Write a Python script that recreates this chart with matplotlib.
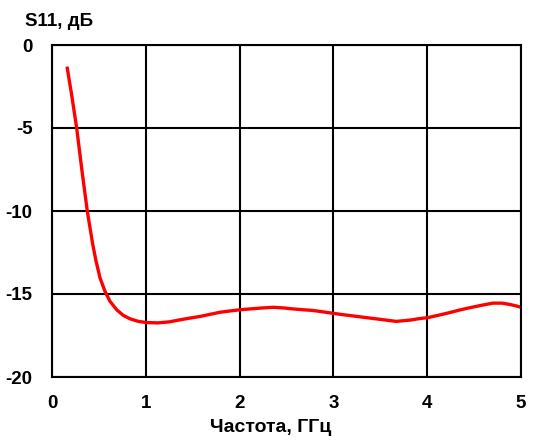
import numpy as np
import matplotlib.pyplot as plt

plt.rcParams['font.family'] = ['Liberation Sans', 'DejaVu Sans']
plt.rcParams['font.weight'] = 'bold'
plt.rcParams['axes.unicode_minus'] = False

# S11 vs frequency
freq = [0.163, 0.21, 0.263, 0.317, 0.376, 0.405, 0.434, 0.469, 0.512, 0.565,
        0.618, 0.69, 0.76, 0.83, 0.92, 1.01, 1.13, 1.25, 1.36, 1.47, 1.58,
        1.69, 1.79, 1.9, 2.0, 2.11, 2.22, 2.36, 2.47, 2.57, 2.68, 2.78, 2.88,
        2.98, 3.08, 3.18, 3.29, 3.39, 3.53, 3.67, 3.82, 3.92, 4.01, 4.12,
        4.24, 4.35, 4.46, 4.58, 4.7, 4.8, 4.88, 4.95, 5.0]
s11 = [-1.40, -3.02, -5.0, -7.46, -10.0, -11.0, -12.0, -13.0, -14.03, -14.84,
       -15.44, -15.95, -16.29, -16.49, -16.65, -16.72, -16.74, -16.68, -16.56,
       -16.45, -16.35, -16.22, -16.1, -16.02, -15.95, -15.9, -15.85, -15.8,
       -15.84, -15.9, -15.95, -15.99, -16.07, -16.15, -16.23, -16.3, -16.38,
       -16.45, -16.55, -16.65, -16.57, -16.48, -16.42, -16.28, -16.12, -15.96,
       -15.82, -15.68, -15.55, -15.55, -15.63, -15.72, -15.8]

x_ticks = [0, 1, 2, 3, 4, 5]
y_ticks = [0, -5, -10, -15, -20]

fig = plt.figure(figsize=(5.4, 4.43), dpi=100)
ax = fig.add_axes([52 / 540, 1 - 377 / 443, 469 / 540, 332 / 443])

ax.plot(freq, s11, color='#ff0000', linewidth=2.4, solid_joinstyle='round')

ax.set_xlim(0, 5)
ax.set_ylim(-20, 0)
ax.set_xticks(x_ticks)
ax.set_yticks(y_ticks)
ax.grid(True, color='black', linewidth=1.5)
for sp in ax.spines.values():
    sp.set_color('black')
    sp.set_linewidth(1.5)
ax.tick_params(length=0, labelsize=13.5, pad=14)
ax.tick_params(axis='x', pad=13)

# axis titles sit relative to the whole picture, not the plot box
fig.text(271 / 540, 1 - 428 / 443, 'Частота, ГГц', fontsize=14,
         fontweight='bold', ha='center', va='center')
fig.text(25 / 540, 1 - 22 / 443, 'S11, дБ', fontsize=13.5, fontweight='bold',
         ha='left', va='center')

fig.savefig('out.png', dpi=100)
